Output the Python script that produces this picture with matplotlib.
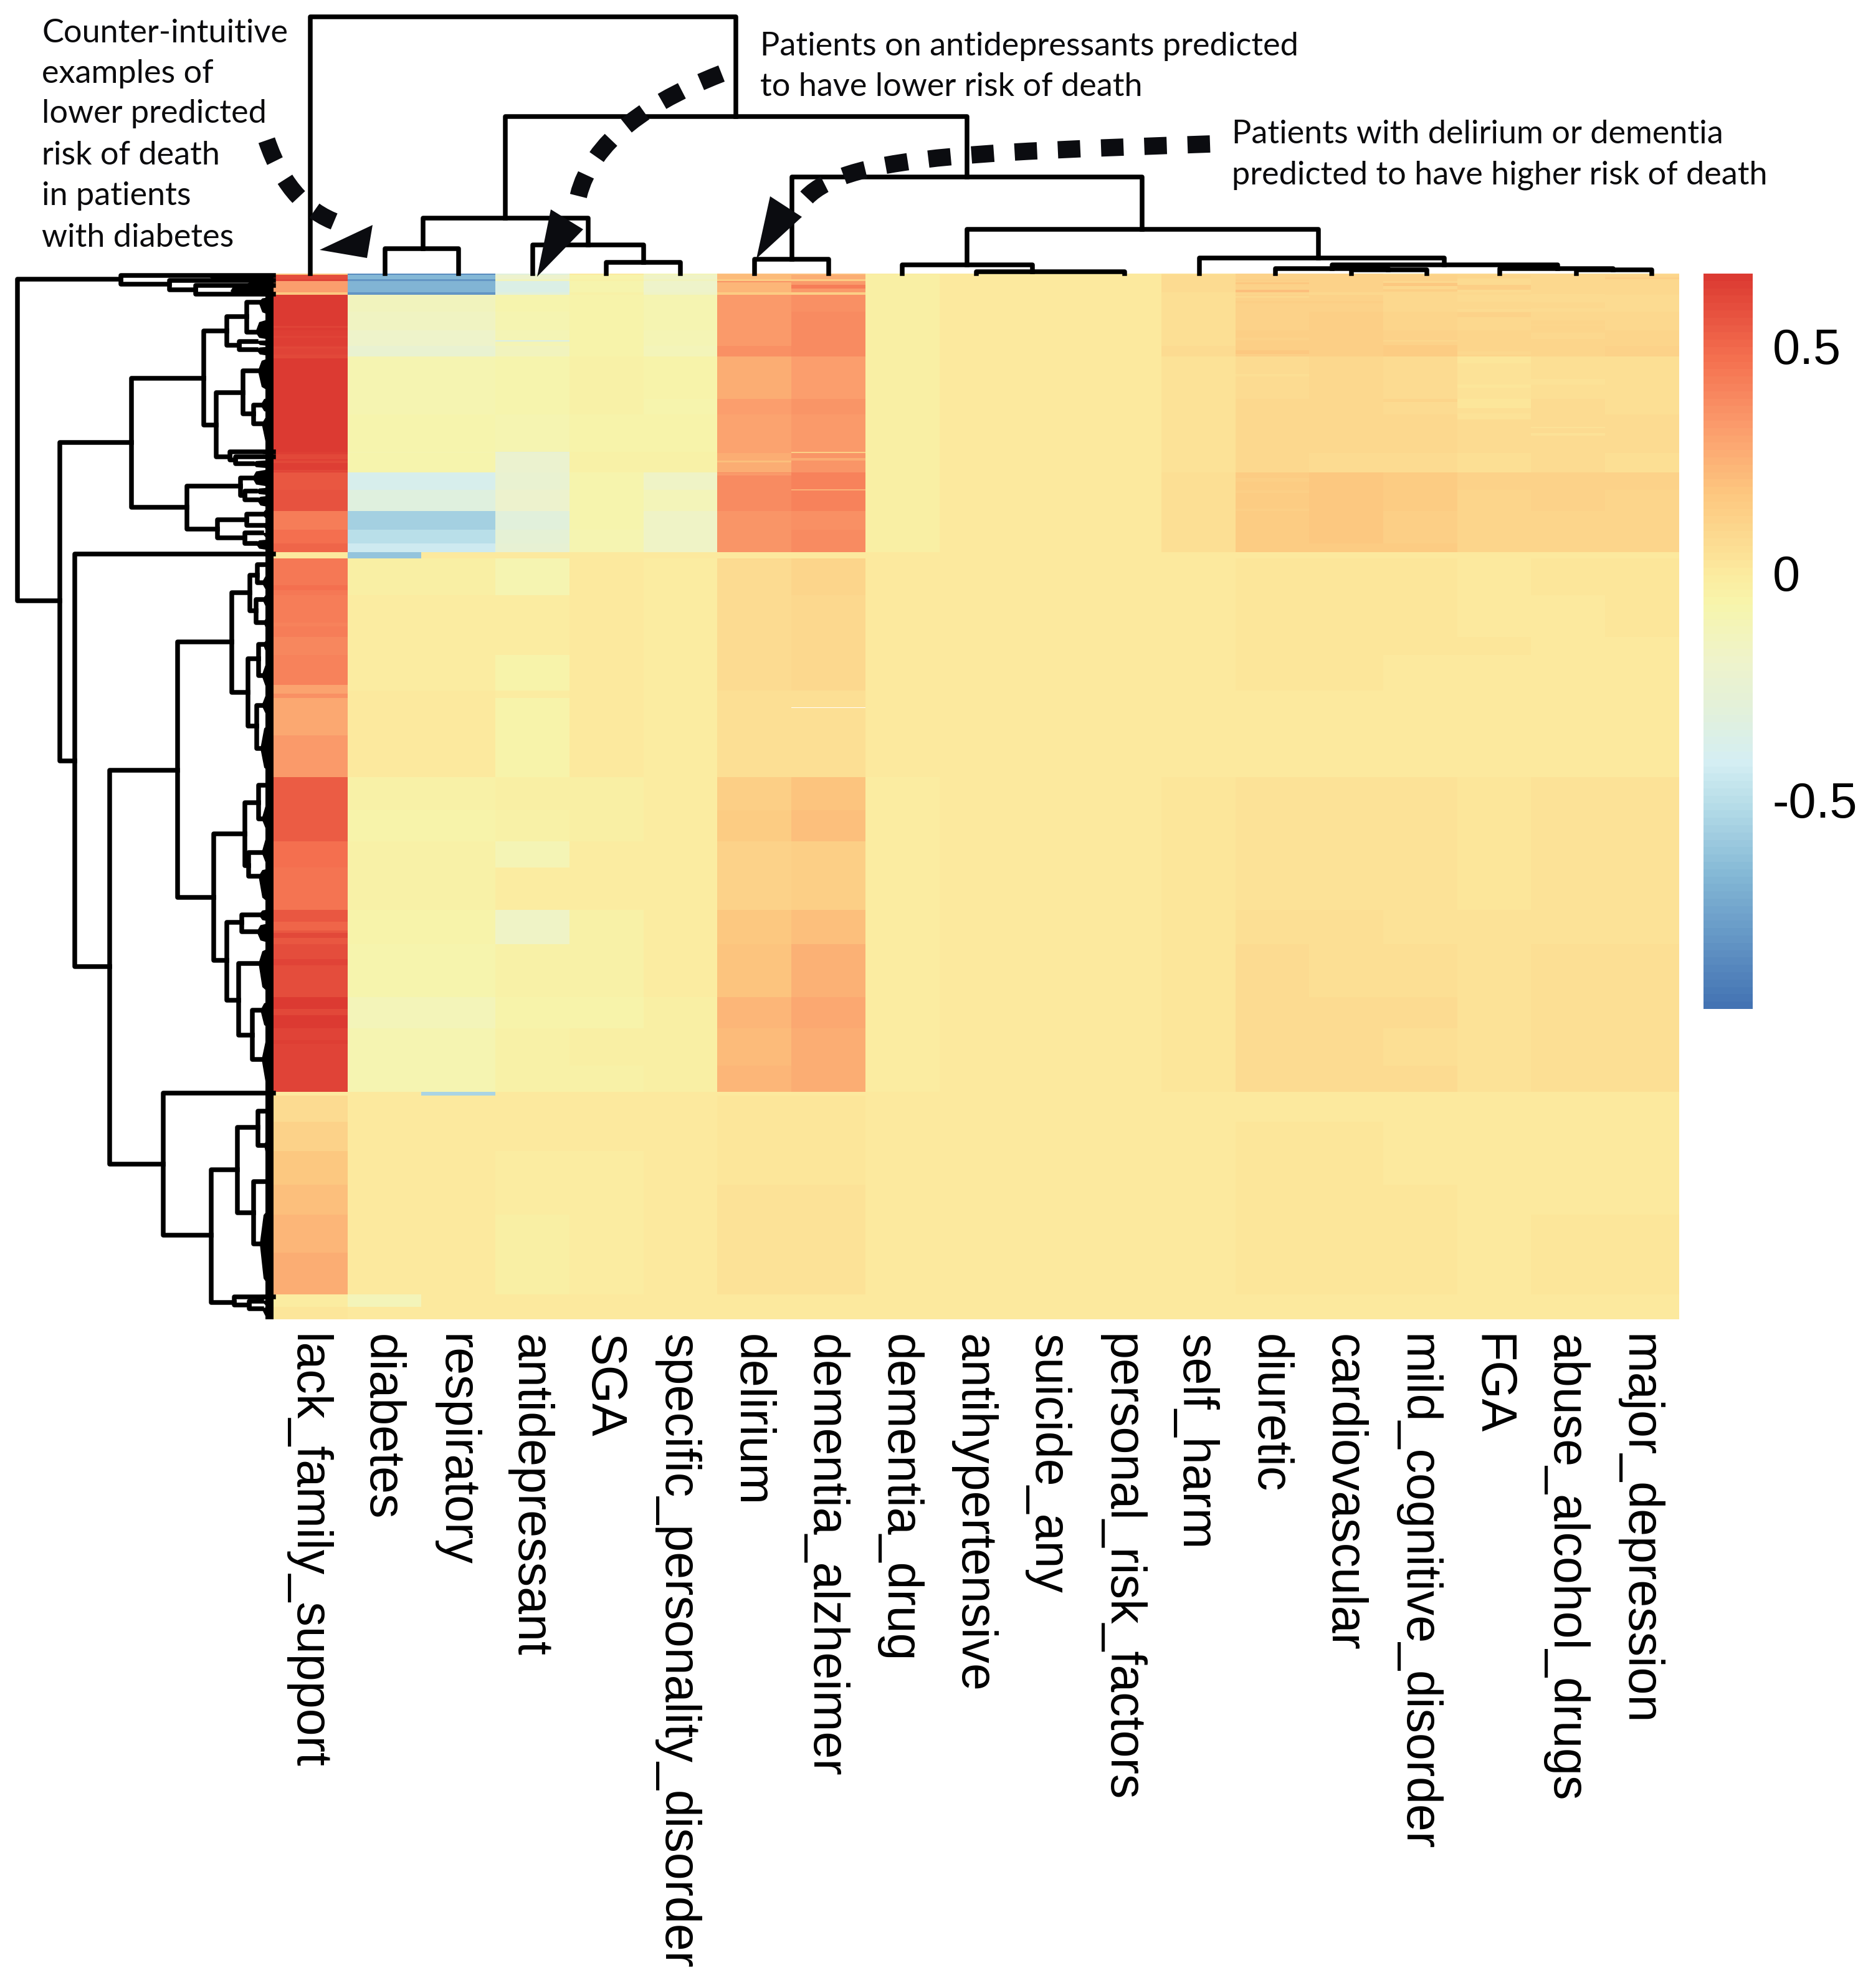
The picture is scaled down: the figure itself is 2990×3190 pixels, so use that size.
import numpy as np
import matplotlib
matplotlib.use('Agg')
import matplotlib.pyplot as plt
from matplotlib.colors import LinearSegmentedColormap, Normalize
from matplotlib.path import Path
from matplotlib.patches import PathPatch, Polygon

W, H = 2990, 3190

columns = ['lack_family_support', 'diabetes', 'respiratory', 'antidepressant', 'SGA',
           'specific_personality_disorder', 'delirium', 'dementia_alzheimer', 'dementia_drug',
           'antihypertensive', 'suicide_any', 'personal_risk_factors', 'self_harm', 'diuretic',
           'cardiovascular', 'mild_cognitive_disorder', 'FGA', 'abuse_alcohol_drugs', 'major_depression']

# first row of each horizontal band of patients
band_start = [0, 2, 9, 12, 30,
              34, 61, 91, 116,
              133, 201, 226,
              286, 288,
              319, 347, 381, 411, 433,
              447,
              457, 516, 583, 612, 669, 681, 741,
              808, 861, 911, 953, 1021, 1076, 1161, 1211, 1271,
              1313, 1319, 1361, 1408, 1462, 1510, 1571, 1638, 1658]
n_rows = 1678

lack_family_support = [.17, .58, .62, .31, .17,
                       .66, .65, .64, .62,
                       .66, .66, .66,
                       .64, .64,
                       .56, .57, .43, .48, .51,
                       .0,
                       .44, .43, .39, .41, .36, .28, .33,
                       .53, .54, .47, .46, .56, .59, .65, .62, .62,
                       .0, .07, .115, .16, .19, .23, .26, -.01, .02]
diabetes = [-.85, -.66, -.8, -.68, -.8,
            -.14, -.16, -.19, -.24,
            -.09, -.09, -.08,
            -.1, -.08,
            -.38, -.32, -.57, -.5, -.43,
            -.62,
            -.025, -.02, -.02, -.01, -.005, .0, .0,
            -.05, -.06, -.045, -.045, -.07, -.08, -.12, -.09, -.09,
            .0, .0, .0, .0, .0, .0, .0, -.12, .0]
respiratory = [-.85, -.66, -.8, -.68, -.8,
               -.14, -.16, -.19, -.24,
               -.09, -.09, -.08,
               -.1, -.08,
               -.38, -.32, -.57, -.5, -.43,
               .0,
               -.025, -.02, -.02, -.01, -.005, .0, .0,
               -.05, -.06, -.045, -.045, -.07, -.08, -.12, -.09, -.09,
               -.55, .0, .0, .0, .0, .0, .0, .0, .0]
antidepressant = [-.3, -.2, -.15, -.35, -.3,
                  -.08, -.09, -.11, -.14,
                  -.08, -.08, -.09,
                  -.25, -.23,
                  -.24, -.2, -.3, -.27, -.26,
                  .0,
                  -.1, -.01, -.01, -.06, -.01, -.065, -.065,
                  -.03, -.04, -.11, -.02, -.17, -.04, -.07, -.05, -.05,
                  .005, .0, .0, -.01, -.01, -.03, -.035, .0, .0]
sga = [.01, -.06, -.05, -.08, -.05,
       -.06, -.06, -.06, -.07,
       -.05, -.05, -.055,
       -.04, -.05,
       -.08, -.08, -.08, -.09, -.09,
       .0,
       .0, .0, .0, -.005, .0, .0, .0,
       -.03, -.03, -.01, -.02, -.04, -.04, -.06, -.03, -.04,
       .0, .0, .0, -.01, -.01, -.01, -.01, .0, .0]
specific_personality = [-.12, -.18, -.15, -.19, -.17,
                        -.09, -.1, -.11, -.12,
                        -.06, -.08, -.07,
                        -.05, -.05,
                        -.17, -.12, -.18, -.17, -.17,
                        .0,
                        -.01, -.01, -.01, -.01, -.01, -.01, -.01,
                        -.01, -.01, -.02, -.02, -.02, -.02, -.035, -.025, -.03,
                        .0, .0, .0, .0, .0, .0, .0, .0, .0]
delirium = [.2, .22, .15, .23, .15,
            .32, .32, .32, .36,
            .26, .31, .29,
            .3, .26,
            .37, .37, .34, .35, .35,
            .0,
            .075, .07, .07, .07, .055, .045, .05,
            .14, .15, .11, .11, .16, .18, .23, .21, .23,
            .0, .015, .02, .025, .035, .035, .04, .0, .0]
dementia_alzheimer = [.2, .27, .15, .32, .14,
                      .36, .37, .38, .38,
                      .31, .35, .32,
                      .13, .34,
                      .4, .4, .36, .37, .38,
                      .0,
                      .1, .09, .085, .085, .045, .045, .055,
                      .18, .19, .14, .13, .19, .24, .28, .26, .27,
                      .0, .015, .02, .025, .035, .04, .04, .0, .0]
dementia_drug = [-.02, -.03, -.03, -.03, -.03,
                 -.025, -.025, -.025, -.025,
                 -.025, -.025, -.025,
                 -.025, -.025,
                 -.03, -.03, -.03, -.03, -.03,
                 .0,
                 .0, .0, .0, .0, .0, .0, .0,
                 -.01, -.01, -.01, -.01, -.01, -.01, -.01, -.01, -.01,
                 .0, .0, .0, .0, .0, .0, .0, .0, .0]
antihypertensive = [.0] * 45
suicide_any = [.0] * 45
personal_risk_factors = [.0] * 45
self_harm = [.05, .06, .06, .06, .05,
             .05, .055, .055, .06,
             .035, .035, .035,
             .04, .04,
             .05, .05, .05, .05, .05,
             .0,
             .0, .0, .0, .0, .0, .0, .0,
             .015, .015, .015, .015, .02, .025, .025, .025, .025,
             .0, .0, .0, .0, .0, .0, .0, .0, .0]
diuretic = [.11, .12, .13, .12, .1,
            .11, .12, .125, .14,
            .07, .08, .09,
            .08, .08,
            .15, .15, .15, .15, .15,
            .0,
            .025, .025, .02, .015, .01, .01, .01,
            .04, .04, .04, .04, .05, .06, .07, .06, .065,
            .0, .0, .015, .015, .015, .015, .015, .0, .0]
cardiovascular = [.11, .12, .12, .12, .1,
                  .12, .13, .135, .14,
                  .08, .085, .09,
                  .08, .07,
                  .16, .16, .16, .16, .15,
                  .0,
                  .025, .025, .02, .015, .01, .01, .01,
                  .04, .04, .04, .04, .05, .055, .065, .06, .06,
                  .0, .0, .015, .015, .015, .015, .015, .0, .0]
mild_cognitive = [.09, .12, .12, .09, .08,
                  .09, .1, .11, .14,
                  .06, .07, .09,
                  .08, .07,
                  .15, .15, .14, .14, .15,
                  .0,
                  .025, .02, .015, .01, .0, .0, .0,
                  .035, .035, .035, .035, .04, .045, .06, .05, .06,
                  .0, .0, .005, .01, .015, .015, .015, .0, .0]
fga = [.09, .1, .07, .07, .07,
       .07, .08, .095, .105,
       .04, .05, .065,
       .06, .055,
       .115, .105, .105, .105, .095,
       .0,
       .005, .005, .015, .005, .0, .0, .0,
       .02, .025, .025, .025, .03, .035, .04, .04, .04,
       .0, .0, .005, .005, .01, .01, .01, .0, .0]
abuse_alcohol = [.08, .09, .08, .08, .07,
                 .075, .085, .095, .105,
                 .055, .06, .075,
                 .065, .06,
                 .115, .115, .105, .105, .105,
                 .0,
                 .015, .01, .01, .005, .0, .0, .0,
                 .03, .035, .035, .035, .04, .045, .05, .045, .045,
                 .0, .0, .005, .005, .01, .015, .015, .0, .0]
major_depression = [.09, .1, .09, .09, .08,
                    .075, .085, .1, .115,
                    .055, .055, .065,
                    .065, .055,
                    .115, .105, .105, .095, .105,
                    .0,
                    .02, .015, .01, .01, .0, .0, .0,
                    .035, .035, .035, .035, .04, .045, .045, .045, .05,
                    .0, .0, .005, .01, .01, .015, .015, .0, .0]

# thin single stripes: first row, number of rows, column, value
stripes = [(696, 1, 7, np.nan), (346, 2, 7, .25), (12, 2, 6, .35), (18, 6, 7, .42),
           (107, 2, 3, -.35), (84, 3, 0, .62), (100, 3, 0, .62), (118, 2, 0, .6),
           (130, 6, 0, .6), (290, 8, 0, .6), (300, 4, 0, .6), (315, 3, 0, .6),
           (1058, 8, 0, .6), (1230, 6, 0, .64), (1100, 10, 0, .62), (660, 14, 0, .3),
           (1040, 14, 0, .5), (1180, 10, 0, .6), (560, 6, 0, .41), (500, 8, 0, .47),
           (300, 3, 6, .2), (320, 4, 6, .32), (296, 4, 7, .27),
           (14, 3, 13, .17), (26, 4, 13, .2), (36, 3, 13, .085), (44, 4, 13, .13), (103, 4, 13, .12),
           (123, 6, 13, .17), (161, 4, 13, .05), (328, 6, 13, .13), (348, 4, 13, .13), (377, 4, 13, .13),
           (30, 4, 14, .09), (44, 4, 14, .14),
           (15, 5, 15, .16), (25, 4, 15, .14), (107, 2, 15, .09), (115, 18, 15, .15), (201, 5, 15, .1),
           (206, 8, 15, .06),
           (8, 3, 16, .06), (18, 8, 16, .13), (30, 4, 16, .08), (45, 12, 16, .085), (62, 8, 16, .11),
           (94, 8, 16, .1), (125, 5, 16, .09), (133, 11, 16, .025), (164, 3, 16, .035), (172, 2, 16, .035),
           (178, 5, 16, .025), (201, 15, 16, .025), (224, 10, 16, .035),
           (11, 3, 17, .09), (30, 3, 17, .08), (46, 10, 17, .085), (75, 7, 17, .1), (83, 10, 17, .1),
           (95, 10, 17, .09), (169, 9, 17, .035), (246, 2, 17, .035), (256, 4, 17, .035),
           (6, 3, 18, .13), (30, 3, 18, .08)]

matrix_cols = [lack_family_support, diabetes, respiratory, antidepressant, sga, specific_personality,
               delirium, dementia_alzheimer, dementia_drug, antihypertensive, suicide_any,
               personal_risk_factors, self_harm, diuretic, cardiovascular, mild_cognitive, fga,
               abuse_alcohol, major_depression]

matrix = np.zeros((n_rows, len(columns)))
band_end = band_start[1:] + [n_rows]
for c, col in enumerate(matrix_cols):
    for b, v in enumerate(col):
        matrix[band_start[b]:band_end[b], c] = v
for r, n, c, v in stripes:
    matrix[r:r + n, c] = v

# row tree, in picture pixels: x of the join, y top, y bottom, x of top child, x of bottom child
row_merges = [
    (28, 448, 964, 194, 96), (194, 442, 456, 439, 272), (272, 450, 465, 439, 314), (314, 458, 472, 439, 439),
    (96, 710, 1221, 211, 120), (211, 607, 814, 327, 300), (327, 531, 682, 364, 347), (364, 508, 554, 396, 384),
    (396, 485, 533, 415, 410), (384, 548, 561, 411, 411), (347, 630, 733, 390, 369), (390, 595, 664, 414, 407),
    (407, 650, 680, 418, 420), (369, 725, 738, 439, 378), (378, 733, 744, 439, 405), (300, 780, 849, 386, 349),
    (386, 767, 795, 405, 393), (393, 788, 802, 410, 412), (349, 834, 863, 396, 393), (396, 825, 843, 420, 422),
    (393, 855, 872, 420, 410),
    (120, 889, 1551, 439, 176), (176, 1236, 1868, 285, 262), (285, 1030, 1440, 372, 343), (372, 951, 1111, 401, 398),
    (401, 923, 980, 413, 411), (413, 906, 935, 425, 420), (411, 962, 999, 421, 423), (398, 1057, 1165, 415, 412),
    (415, 1034, 1084, 422, 420), (412, 1132, 1201, 420, 418), (343, 1338, 1541, 393, 364), (393, 1288, 1389, 415, 399),
    (415, 1260, 1314, 425, 420), (399, 1368, 1406, 420, 415), (364, 1480, 1605, 388, 383), (388, 1468, 1495, 415, 412),
    (383, 1546, 1661, 415, 405), (405, 1621, 1700, 418, 420), (262, 1754, 1982, 439, 339), (339, 1877, 2090, 381, 376),
    (381, 1809, 1946, 414, 407), (414, 1783, 1838, 428, 424), (407, 1896, 1996, 426, 417), (376, 2081, 2094, 439, 400),
    (400, 2088, 2100, 420, 420),
]
# dense leaf fans: x tip, y tip, first y and last y on the heatmap edge
row_clumps = [
    (335, 443, 439, 452), (370, 467, 452, 476), (395, 457, 450, 465),
    (415, 485, 476, 508), (410, 533, 510, 546), (411, 548, 546, 556), (411, 561, 556, 572), (414, 595, 572, 632),
    (418, 650, 636, 664), (420, 680, 666, 720), (416, 725, 722, 730), (420, 733, 730, 738), (405, 744, 738, 752),
    (405, 767, 752, 782), (410, 788, 782, 795), (412, 802, 795, 815), (420, 825, 815, 834), (422, 843, 834, 855),
    (420, 855, 855, 865), (410, 872, 865, 884), (295, 889, 887, 892),
    (425, 906, 895, 920), (420, 935, 920, 950), (421, 962, 950, 980), (423, 999, 982, 1020),
    (422, 1034, 1022, 1055), (420, 1084, 1060, 1108), (420, 1132, 1110, 1150), (418, 1201, 1155, 1245),
    (425, 1260, 1248, 1285), (420, 1314, 1285, 1335), (420, 1368, 1338, 1390), (415, 1406, 1392, 1455),
    (415, 1468, 1458, 1480), (412, 1495, 1480, 1515), (415, 1546, 1518, 1600), (418, 1621, 1605, 1655),
    (420, 1700, 1660, 1750), (415, 1754, 1752, 1757),
    (428, 1783, 1758, 1810), (424, 1838, 1812, 1880), (426, 1896, 1882, 1925), (417, 1996, 1930, 2075),
    (405, 2081, 2077, 2086), (420, 2088, 2086, 2097), (420, 2100, 2097, 2117),
]
# column tree: y of the join, x left, x right, y of left child, y of right child
col_merges = [
    (27, 498, 1181, 439, 187), (187, 811, 1552, 350, 284), (350, 679, 944, 399, 393), (399, 618, 736, 439, 439),
    (393, 855, 1033, 439, 421), (421, 973, 1092, 439, 439), (284, 1271, 1833, 416, 368), (416, 1211, 1330, 439, 439),
    (368, 1552, 2116, 425, 414), (425, 1448, 1657, 439, 436), (436, 1567, 1805, 439, 439), (414, 1925, 2318, 439, 425),
    (425, 2138, 2500, 431, 431), (431, 2047, 2228, 439, 433), (433, 2169, 2290, 439, 439), (431, 2407, 2589, 439, 433),
    (433, 2530, 2651, 439, 439),
]

palette = [(0, '#4373B3'), (.18, '#84B8D6'), (.275, '#B6DDE8'), (.334, '#D4EEF3'), (.41, '#E3F1D9'),
           (.47, '#EEF3CC'), (.55, '#F7F5AC'), (.593, '#FCEB9F'), (.62, '#FCE196'), (.70, '#FDC880'), (.794, '#FB9C6C'),
           (.89, '#F46F4F'), (1, '#DC3A32')]
cmap = LinearSegmentedColormap.from_list('rdylbu', palette, N=100)
cmap.set_bad('white')
norm = Normalize(-0.9615, 0.659)


def px_axes(x0, y0, x1, y1, **kw):
    return fig.add_axes([x0 / W, 1 - y1 / H, (x1 - x0) / W, (y1 - y0) / H], **kw)


fig = plt.figure(figsize=(W / 100, H / 100), dpi=100)
plt.rcParams['font.family'] = ['Liberation Sans', 'DejaVu Sans']

# heatmap
ax = px_axes(439, 439, 2695, 2117)
img = ax.imshow(matrix, aspect='auto', cmap=cmap, norm=norm, interpolation='nearest',
                extent=(0, len(columns), n_rows, 0))
# labels sit a little left of the column centres
ax.set_xticks(np.arange(len(columns)) + 0.45)
ax.set_xticklabels(columns, rotation=270, ha='center', va='top', fontsize=56.8, family='Liberation Sans')
ax.tick_params(axis='x', length=0, pad=17)
ax.set_yticks([])
for s in ax.spines.values():
    s.set_visible(False)

# row dendrogram
ax_row = px_axes(0, 439, 439, 2117)
ax_row.set_xlim(0, 439)
ax_row.set_ylim(2117, 439)
ax_row.axis('off')
for x, y1, y2, c1, c2 in row_merges:
    ax_row.plot([c1, x, x, c2], [y1, y1, y2, y2], color='black', lw=5.4, solid_joinstyle='round', clip_on=False)
for x, y, a, b in row_clumps:
    ax_row.fill([x, x + 6, 439, 439, x + 6], [y, a + (y - a) * .3, a, b, b - (b - y) * .3], color='black', lw=0)
ax_row.axvspan(426, 439, color='black', lw=0)

# column dendrogram
ax_col = px_axes(439, 0, 2695, 439)
ax_col.set_xlim(439, 2695)
ax_col.set_ylim(439, 0)
ax_col.axis('off')
for y, x1, x2, c1, c2 in col_merges:
    ax_col.plot([x1, x1, x2, x2], [c1, y, y, c2], color='black', lw=5.4, solid_joinstyle='round', clip_on=False)

# colour bar
cax = px_axes(2734, 439, 2813, 1619)
cb = fig.colorbar(img, cax=cax, ticks=[-0.5, 0, 0.5])
cb.ax.set_yticklabels(['-0.5', '0', '0.5'], fontsize=57, family='Liberation Sans')
cb.ax.tick_params(length=0, pad=23)
cb.outline.set_visible(False)

# annotations drawn on top
over = px_axes(0, 0, W, H)
over.set_xlim(0, W)
over.set_ylim(H, 0)
over.axis('off')
over.patch.set_alpha(0)

note_font = dict(family='Lato', fontsize=37.6, color='#0b0b0d', va='center', ha='left')
left_note = ['Counter-intuitive', 'examples of', 'lower predicted', 'risk of death', 'in patients', 'with diabetes']
left_y = [53, 118, 183, 250, 315, 382]
for t, y in zip(left_note, left_y):
    over.text(67, y, t, **note_font)
over.text(1220, 75, 'Patients on antidepressants predicted', **note_font)
over.text(1220, 140, 'to have lower risk of death', **note_font)
over.text(1977, 216, 'Patients with delirium or dementia', **note_font)
over.text(1977, 281, 'predicted to have higher risk of death', **note_font)

arrow_color = '#0b0c10'
curves = [
    ([(428, 225), (466, 338), (556, 362)], [Path.MOVETO, Path.CURVE3, Path.CURVE3]),
    ([(1158, 118), (945, 200), (925, 330)], [Path.MOVETO, Path.CURVE3, Path.CURVE3]),
    ([(1942, 231), (1550, 245), (1330, 250), (1283, 332)], [Path.MOVETO, Path.CURVE4, Path.CURVE4, Path.CURVE4]),
]
for verts, codes in curves:
    over.add_patch(PathPatch(Path(verts, codes), fill=False, edgecolor=arrow_color, lw=20,
                             linestyle=(0, (1.3, 1.2)), capstyle='butt'))
heads = [[(598, 361), (513, 401), (589, 414)],
         [(884, 336), (936, 368), (862, 444)],
         [(1236, 315), (1287, 348), (1214, 415)]]
for h in heads:
    over.add_patch(Polygon(h, closed=True, color=arrow_color, lw=0))

fig.savefig('out.png', dpi=100)
